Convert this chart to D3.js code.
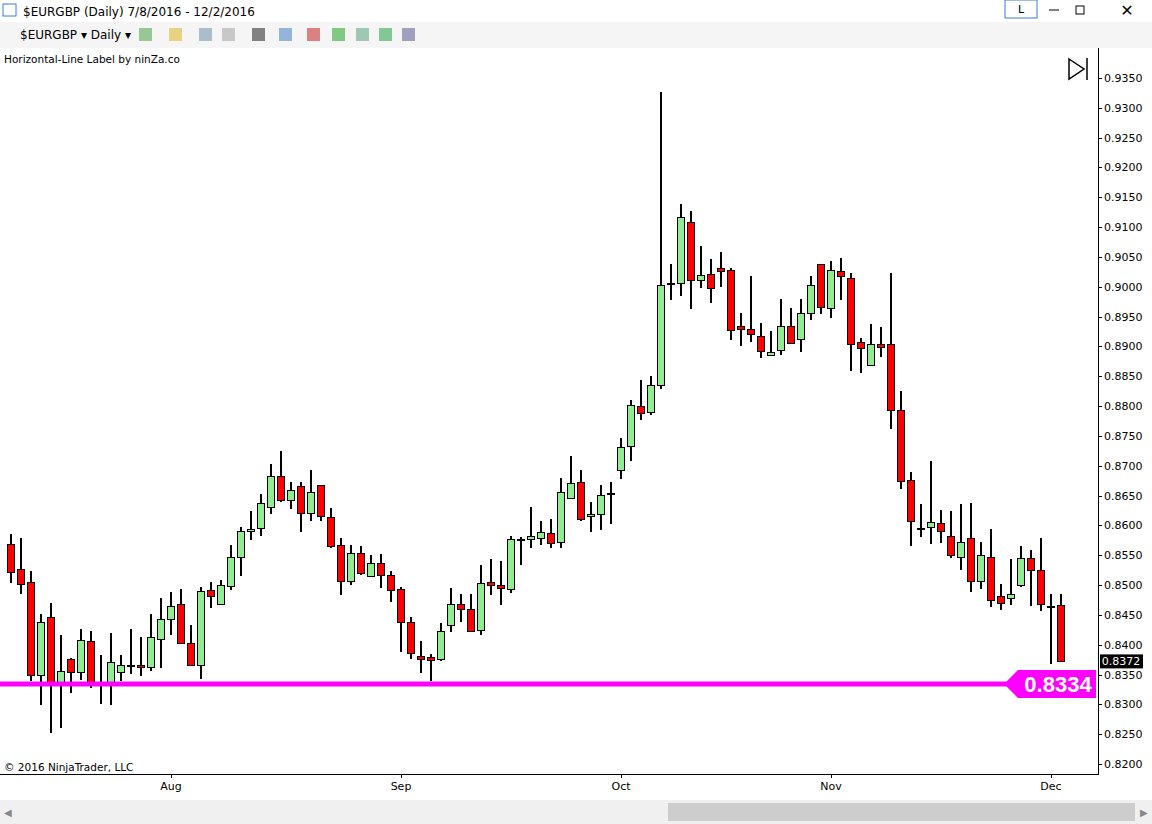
<!DOCTYPE html>
<html><head><meta charset="utf-8">
<script src="https://cdn.jsdelivr.net/npm/d3@7"></script>
<style>body{margin:0;background:#fff;font-family:"Segoe UI","DejaVu Sans",Arial,sans-serif}</style>
</head><body><svg id="c" width="1152" height="824"></svg>
<script>
const openP=[8569,8527,8505,8349,8447,8333,8376,8354,8406,8335,8333,8354,8365,8366,8363,8410,8443,8468,8403,8366,8492,8468,8499,8547,8591,8596,8631,8683,8643,8666,8621,8668,8614,8567,8507,8554,8515,8537,8517,8494,8438,8381,8379,8376,8433,8468,8460,8425,8505,8500,8494,8577,8577,8579,8587,8572,8646,8673,8616,8619,8653,8693,8733,8800,8790,8835,9005,9006,9109,9011,9022,9032,9028,8934,8929,8918,8886,8894,8934,8913,8956,9038,8965,9027,9015,8908,8869,8904,8904,8794,8676,8594,8597,8604,8582,8547,8579,8507,8547,8482,8478,8500,8546,8525,8465,8467];
const highP=[8586,8579,8524,8452,8470,8416,8378,8427,8423,8383,8420,8383,8427,8413,8452,8478,8489,8494,8433,8497,8505,8509,8567,8597,8624,8653,8703,8725,8673,8673,8693,8668,8629,8579,8567,8566,8551,8552,8524,8497,8447,8406,8385,8437,8495,8485,8485,8534,8544,8540,8582,8580,8631,8608,8611,8680,8716,8693,8639,8668,8673,8747,8810,8844,8851,9327,9038,9139,9127,9068,9047,9058,9032,8956,9018,8939,8926,8980,8965,8980,9018,9038,9043,9048,9023,8914,8938,8933,9023,8825,8690,8636,8708,8626,8624,8636,8638,8572,8594,8502,8544,8566,8559,8579,8485,8485];
const lowP=[8504,8485,8339,8299,8252,8261,8319,8341,8328,8301,8299,8339,8351,8348,8356,8361,8416,8401,8365,8343,8462,8468,8492,8515,8576,8582,8619,8639,8628,8589,8608,8608,8562,8484,8500,8517,8515,8495,8472,8388,8376,8353,8339,8373,8421,8438,8421,8416,8484,8467,8487,8534,8562,8567,8562,8562,8646,8608,8589,8592,8603,8678,8708,8777,8785,8829,8978,8985,8963,8998,8973,9000,8911,8901,8908,8881,8884,8886,8904,8891,8944,8954,8948,8978,8859,8856,8869,8882,8762,8661,8566,8581,8569,8571,8546,8525,8489,8494,8463,8458,8467,8497,8465,8457,8368,8372];
const closeP=[8522,8502,8349,8438,8333,8356,8354,8408,8333,8333,8371,8366,8366,8363,8413,8443,8465,8403,8366,8490,8482,8500,8547,8591,8594,8638,8683,8643,8659,8621,8656,8616,8566,8507,8554,8520,8537,8517,8492,8438,8386,8376,8375,8423,8468,8460,8423,8504,8500,8495,8577,8578,8582,8589,8571,8656,8671,8611,8619,8651,8654,8732,8802,8789,8835,9003,9006,9117,9011,9020,8998,9027,8928,8929,8921,8892,8891,8934,8906,8956,9003,8966,9028,9018,8904,8897,8904,8899,8794,8675,8608,8595,8606,8591,8551,8572,8507,8551,8475,8470,8485,8546,8525,8468,8464,8372];
const priceTicks=[0.82,0.825,0.83,0.835,0.84,0.845,0.85,0.855,0.86,0.865,0.87,0.875,0.88,0.885,0.89,0.895,0.9,0.905,0.91,0.915,0.92,0.925,0.93,0.935];
const monthLabels=["Aug","Sep","Oct","Nov","Dec"];
const monthStartIdx=[16,39,61,82,104];
const hlineValue=0.8334, lastValue=0.8372;
const title="$EURGBP (Daily)  7/8/2016 - 12/2/2016";

const svg=d3.select("#c");
const n=openP.length;
const x=d3.scaleLinear().domain([0,n-1]).range([11,1061]);
const y=d3.scaleLinear().domain([0.82,0.935]).range([764,78]);
svg.append("rect").attr("width",1152).attr("height",824).attr("fill","#fff");
svg.append("rect").attr("x",0).attr("y",22).attr("width",1152).attr("height",26).attr("fill","#f5f5f5");
svg.append("rect").attr("x",3).attr("y",4).attr("width",13).attr("height",12).attr("fill","#fff").attr("stroke","#3a7bd5");
svg.append("text").attr("x",23).attr("y",16).attr("font-size",12).text(title);
svg.append("rect").attr("x",1005).attr("y",0).attr("width",32).attr("height",18).attr("fill","#fff").attr("stroke","#3a7bd5");
svg.append("text").attr("x",1021).attr("y",13).attr("text-anchor","middle").attr("font-size",11).text("L");
svg.append("line").attr("x1",1049).attr("x2",1059).attr("y1",10).attr("y2",10).attr("stroke","#000");
svg.append("rect").attr("x",1076).attr("y",6).attr("width",8).attr("height",8).attr("fill","none").attr("stroke","#000");
svg.append("text").attr("x",1127).attr("y",16).attr("text-anchor","middle").attr("font-size",16).text("✕");
svg.append("text").attr("x",20).attr("y",39).attr("font-size",12).text("$EURGBP  ▾   Daily  ▾");
const icons=[145,175,205,228,258,285,313,338,362,385,408];
icons.forEach((ix,i)=>svg.append("rect").attr("x",ix-6).attr("y",28).attr("width",13).attr("height",13).attr("fill",["#5a5","#db3","#79a","#aaa","#333","#58c","#c33","#3a3","#6a8","#3a5","#669"][i]).attr("opacity",0.6));
svg.append("line").attr("x1",1098.5).attr("x2",1098.5).attr("y1",48).attr("y2",775).attr("stroke","#000");
svg.append("line").attr("x1",0).attr("x2",1098).attr("y1",774.5).attr("y2",774.5).attr("stroke","#000");
svg.append("rect").attr("x",0).attr("y",800).attr("width",1152).attr("height",24).attr("fill","#f0f0f0");
svg.append("rect").attr("x",668).attr("y",803).attr("width",467).attr("height",18).attr("fill","#cdcdcd");
svg.append("text").attr("x",4).attr("y",816).attr("font-size",10).attr("fill","#888").text("◀");
svg.append("text").attr("x",1140).attr("y",816).attr("font-size",10).attr("fill","#888").text("▶");
const ax=svg.append("g");
priceTicks.forEach(t=>{
  ax.append("line").attr("x1",1098).attr("x2",1102).attr("y1",Math.round(y(t))+0.5).attr("y2",Math.round(y(t))+0.5).attr("stroke","#000");
  ax.append("text").attr("x",1104).attr("y",y(t)+4).attr("font-size",11).text(d3.format(".4f")(t));
});
monthStartIdx.forEach((mi,k)=>{
  svg.append("line").attr("x1",x(mi)+0.5).attr("x2",x(mi)+0.5).attr("y1",774).attr("y2",778).attr("stroke","#000");
  svg.append("text").attr("x",x(mi)).attr("y",790).attr("text-anchor","middle").attr("font-size",11).text(monthLabels[k]);
});
svg.append("text").attr("x",4).attr("y",63).attr("font-size",10.5).text("Horizontal-Line Label by ninZa.co");
svg.append("text").attr("x",4).attr("y",771).attr("font-size",10.5).text("© 2016 NinjaTrader, LLC");
svg.append("path").attr("d","M1069,59 L1084,69 L1069,79 Z").attr("fill","none").attr("stroke","#000").attr("stroke-width",1.5);
svg.append("line").attr("x1",1087).attr("x2",1087).attr("y1",58).attr("y2",80).attr("stroke","#000").attr("stroke-width",1.5);
const g=svg.append("g").attr("shape-rendering","crispEdges");
for(let i=0;i<n;i++){
  const o=openP[i]/10000,h=highP[i]/10000,l=lowP[i]/10000,c=closeP[i]/10000;
  const cx=Math.round(x(i));
  g.append("line").attr("x1",cx).attr("x2",cx).attr("y1",y(h)).attr("y2",y(l)).attr("stroke","#000").attr("stroke-width",1.5);
  const top=Math.round(y(Math.max(o,c))),bot=Math.round(y(Math.min(o,c)));
  g.append("rect").attr("x",cx-3.5).attr("y",top+0.5).attr("width",7).attr("height",Math.max(1,bot-top))
   .attr("fill",c>=o?"#90ee90":"#ff0000").attr("stroke","#000").attr("stroke-width",1.3);
}
const hy=y(hlineValue);
svg.append("line").attr("x1",0).attr("x2",1010).attr("y1",hy).attr("y2",hy).attr("stroke","#ff00ff").attr("stroke-width",5);
svg.append("path").attr("d",`M1004,${hy} L1018,${hy-14} L1096,${hy-14} L1096,${hy+14} L1018,${hy+14} Z`).attr("fill","#ff00ff");
svg.append("text").attr("x",1058).attr("y",hy+8).attr("text-anchor","middle").attr("font-size",22).attr("font-weight","bold").attr("fill","#fff").attr("font-family","Liberation Sans,Arial").text(d3.format(".4f")(hlineValue));
const ly=y(lastValue);
svg.append("rect").attr("x",1100).attr("y",ly-7).attr("width",43).attr("height",14).attr("fill","#000");
svg.append("text").attr("x",1121).attr("y",ly+4).attr("text-anchor","middle").attr("font-size",11).attr("fill","#fff").text(d3.format(".4f")(lastValue));
</script></body></html>
